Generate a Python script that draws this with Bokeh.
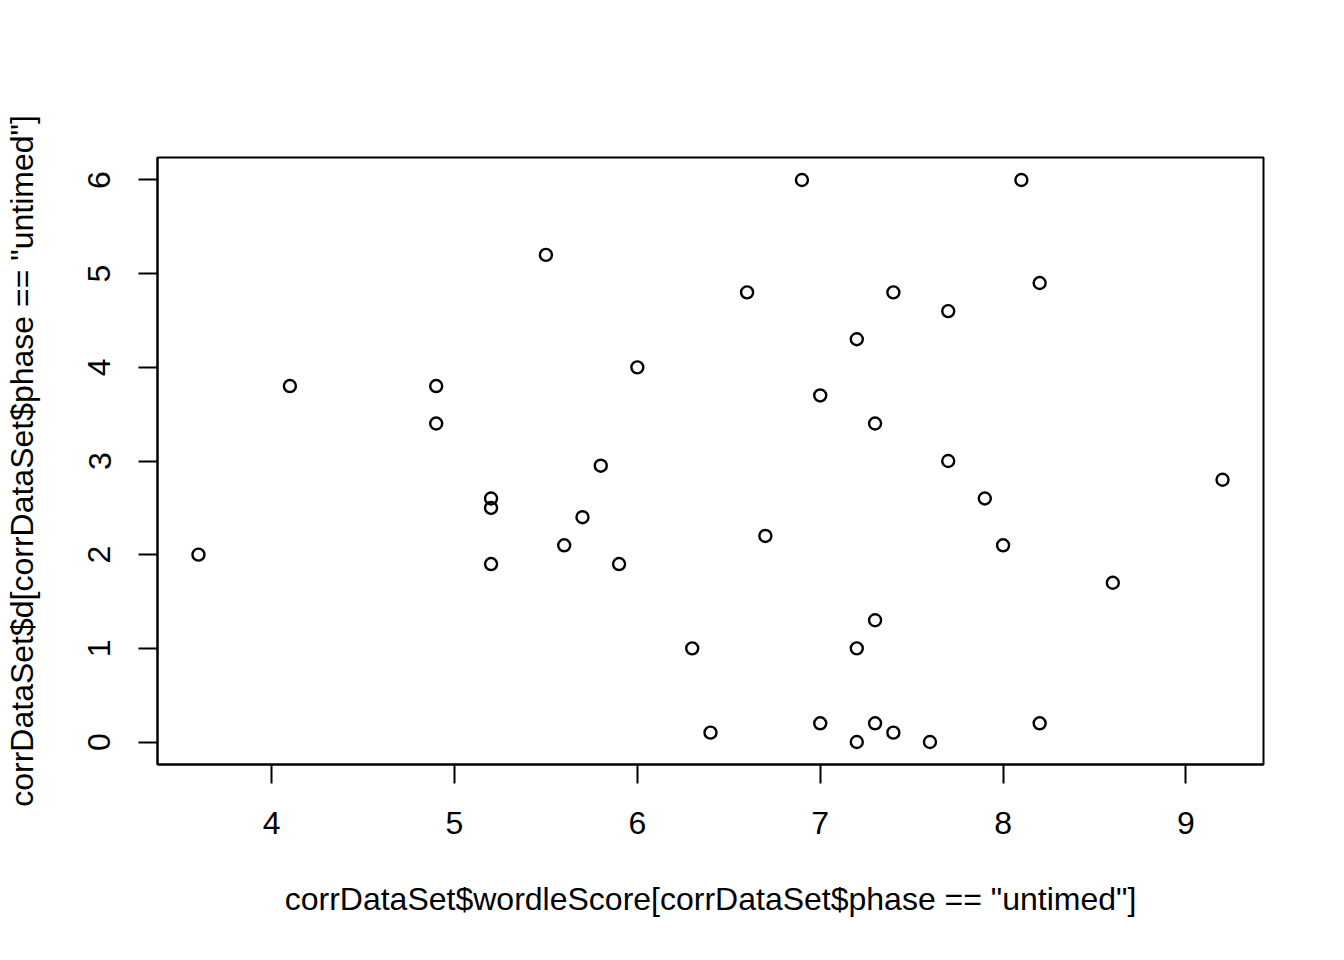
from bokeh.plotting import figure
from bokeh.models import Range1d, FixedTicker
from bokeh.embed import file_html
from bokeh.resources import INLINE

# Data (x: wordleScore, y: d) for phase == "untimed"
wordle_score = [3.6, 4.1, 4.9, 4.9, 5.2, 5.2, 5.2, 5.5, 5.6, 5.7,
                5.8, 5.9, 6.0, 6.3, 6.4, 6.6, 6.7, 6.9, 7.0, 7.0,
                7.2, 7.2, 7.2, 7.3, 7.3, 7.3, 7.4, 7.4, 7.6, 7.7,
                7.7, 7.9, 8.0, 8.1, 8.2, 8.2, 8.6, 9.2]
d_values = [2.0, 3.8, 3.8, 3.4, 2.6, 2.5, 1.9, 5.2, 2.1, 2.4,
            2.95, 1.9, 4.0, 1.0, 0.1, 4.8, 2.2, 6.0, 3.7, 0.2,
            4.3, 1.0, 0.0, 3.4, 1.3, 0.2, 4.8, 0.1, 0.0, 4.6,
            3.0, 2.6, 2.1, 6.0, 4.9, 0.2, 1.7, 2.8]
x_ticks = [4, 5, 6, 7, 8, 9]
y_ticks = [0, 1, 2, 3, 4, 5, 6]
x_label = 'corrDataSet$wordleScore[corrDataSet$phase == "untimed"]'
y_label = 'corrDataSet$d[corrDataSet$phase == "untimed"]'

FONT = "Liberation Sans"

def padded(vals, frac=0.04):
    lo, hi = min(vals), max(vals)
    pad = (hi - lo) * frac
    return lo - pad, hi + pad

xr = padded(wordle_score)
yr = padded(d_values)

p = figure(width=1328, height=944, output_backend="svg", toolbar_location=None,
           x_range=Range1d(*xr), y_range=Range1d(*yr),
           min_border_left=157, min_border_right=65,
           min_border_top=157, min_border_bottom=180)

p.background_fill_color = "white"
p.border_fill_color = "white"
p.outline_line_color = "black"
p.outline_line_width = 2
p.xgrid.visible = False
p.ygrid.visible = False

p.scatter(wordle_score, d_values, marker="circle", size=12,
          fill_color=None, line_color="black", line_width=2.4)

for ax, ticks in ((p.xaxis[0], x_ticks), (p.yaxis[0], y_ticks)):
    ax.ticker = FixedTicker(ticks=ticks, minor_ticks=[])
    ax.axis_line_color = "black"
    ax.axis_line_width = 2
    ax.major_tick_line_color = "black"
    ax.major_tick_line_width = 2
    ax.major_tick_out = 19
    ax.major_tick_in = 0
    ax.minor_tick_line_color = None
    ax.major_label_text_font = FONT
    ax.major_label_text_font_size = "32px"
    ax.major_label_text_color = "black"
    ax.major_label_standoff = 28
    ax.axis_label_text_font = FONT
    ax.axis_label_text_font_size = "32px"
    ax.axis_label_text_font_style = "normal"
    ax.axis_label_text_color = "black"

p.xaxis[0].axis_label_standoff = 44
p.yaxis[0].axis_label_standoff = 46
p.xaxis[0].axis_label = x_label
p.yaxis[0].axis_label = y_label
p.yaxis[0].major_label_orientation = "vertical"

open("out.html", "w").write(file_html(p, INLINE))
